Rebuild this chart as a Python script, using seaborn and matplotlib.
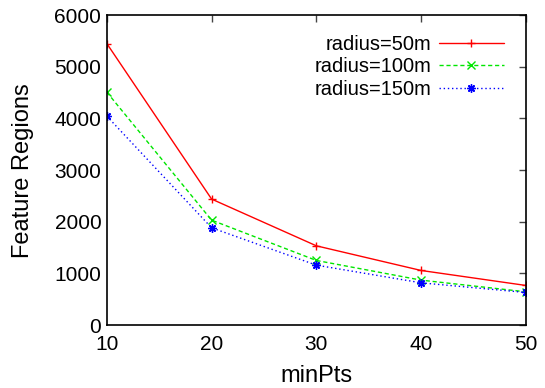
import matplotlib
matplotlib.use('Agg')
import matplotlib.pyplot as plt
import pandas as pd
import seaborn as sns

# data
min_pts = [10, 20, 30, 40, 50]
radius_50 = [5450, 2440, 1535, 1058, 768]
radius_100 = [4510, 2032, 1252, 871, 645]
radius_150 = [4045, 1884, 1161, 819, 632]
labels = ['radius=50m', 'radius=100m', 'radius=150m']

sns.set_theme(style='white')
plt.rcParams['font.family'] = ['Liberation Sans', 'DejaVu Sans']
plt.rcParams['text.color'] = 'black'
plt.rcParams['axes.labelcolor'] = 'black'
plt.rcParams['xtick.color'] = 'black'
plt.rcParams['ytick.color'] = 'black'

df = pd.DataFrame({
    'minPts': min_pts * 3,
    'value': radius_50 + radius_100 + radius_150,
    'series': [labels[0]] * 5 + [labels[1]] * 5 + [labels[2]] * 5,
})

fig = plt.figure(figsize=(5.45, 3.88), dpi=100)
ax = fig.add_axes([0.196, 0.162, 0.769, 0.799])

styles = {
    labels[0]: dict(color='#ff0000', linestyle='-', marker='+'),
    labels[1]: dict(color='#00e600', linestyle=(0, (3, 2)), marker='x'),
    labels[2]: dict(color='#0000ff', linestyle=(0, (1, 2)), marker=(8, 2, 0)),
}
for lab in labels:
    sub = df[df['series'] == lab]
    st = styles[lab]
    sns.lineplot(x='minPts', y='value', data=sub, ax=ax, label=lab,
                 color=st['color'], linestyle=st['linestyle'], marker=st['marker'],
                 markersize=6, markeredgewidth=1, markeredgecolor=st['color'],
                 linewidth=1)

ax.set_xlim(10, 50)
ax.set_ylim(0, 6000)
ax.set_xticks([10, 20, 30, 40, 50])
ax.set_yticks(range(0, 6001, 1000))
ax.tick_params(direction='in', top=True, right=True, length=5, width=1,
               labelsize=15, color='#444444')
ax.tick_params(axis='x', pad=7)
ax.tick_params(axis='y', pad=4)
for s in ax.spines.values():
    s.set_color('black')
    s.set_linewidth(1.2)
ax.set_xlabel('minPts', fontsize=17, labelpad=8)
ax.set_ylabel('Feature Regions', fontsize=17, labelpad=15)

ax.legend(loc='upper right', frameon=False, markerfirst=False, fontsize=14.5,
          handlelength=3.2, labelspacing=0.18, handletextpad=0.4,
          bbox_to_anchor=(0.99, 0.995))

fig.savefig('out.png', dpi=100)
